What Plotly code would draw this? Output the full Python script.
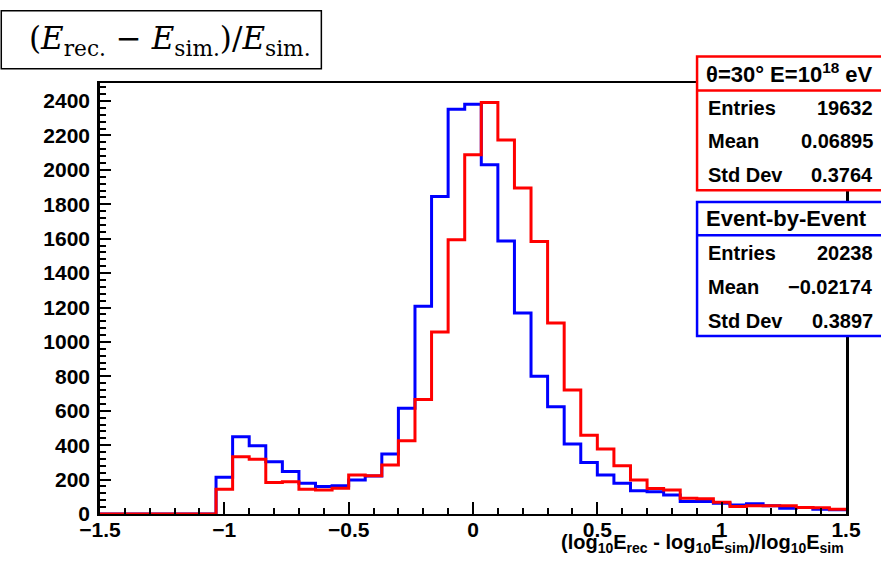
import numpy as np
import plotly.graph_objects as go

# ---- data ----
x_min, x_max, n_bins = -1.5, 1.5, 45
bin_edges = np.linspace(x_min, x_max, n_bins + 1)

event_by_event_counts = [0, 0, 0, 0, 0, 0, 0,
    214, 449, 397, 304, 247, 179, 160, 164, 198, 221, 349, 614, 1207, 1845,
    2353, 2382, 2030, 1586, 1168, 801, 623, 407, 299, 227, 179, 135, 129, 111,
    73, 73, 63, 53, 59, 48, 34, 38, 28, 24]

theta30_counts = [0, 0, 0, 0, 0, 0, 0,
    144, 333, 318, 183, 188, 144, 140, 150, 227, 222, 285, 426, 666, 1058,
    1594, 2088, 2392, 2173, 1895, 1584, 1110, 720, 457, 378, 280, 198, 148, 140,
    92, 88, 69, 44, 48, 48, 48, 38, 36, 28]

red_stats = {"title": "θ=30° E=10<sup>18</sup> eV", "Entries": "19632", "Mean": "0.06895", "Std Dev": "0.3764"}
blue_stats = {"title": "Event-by-Event", "Entries": "20238", "Mean": "−0.02174", "Std Dev": "0.3897"}

FONT = "Liberation Sans"

fig = go.Figure()
for counts, color in [(event_by_event_counts, "#0000ff"), (theta30_counts, "#ff0000")]:
    fig.add_trace(go.Scatter(
        x=list(bin_edges), y=list(counts) + [counts[-1]],
        mode="lines", line=dict(shape="hv", color=color, width=3),
        showlegend=False, hoverinfo="skip"))

# layout geometry (pixels)
W, H = 881, 561
L, R, T, B = 100.4, 846.2, 82.5, 514.3
pw, ph = R - L, B - T
def px(x): return (x - L) / pw
def py(y): return (B - y) / ph

fig.update_layout(
    width=W, height=H,
    margin=dict(l=L, r=W - R, t=T, b=H - B, autoexpand=False),
    paper_bgcolor="white", plot_bgcolor="white",
    font=dict(family=FONT, color="black"),
)
fig.update_xaxes(
    range=[x_min, x_max], showgrid=False, zeroline=False,
    showline=True, linecolor="black", linewidth=2, mirror=True,
    ticks="inside", ticklen=12, tickwidth=2, tickcolor="black",
    tick0=-1.5, dtick=0.5,
    minor=dict(ticks="inside", dtick=0.1, ticklen=6, tickwidth=2, tickcolor="black"),
    tickfont=dict(family=FONT, size=21, weight="bold", color="black"),
    ticklabelstandoff=-4,
)
fig.update_yaxes(
    range=[0, 2505], showgrid=False, zeroline=False,
    showline=True, linecolor="black", linewidth=2.5, mirror=True,
    ticks="inside", ticklen=11, tickwidth=2, tickcolor="black",
    tick0=0, dtick=200,
    minor=dict(ticks="inside", dtick=40, ticklen=6, tickwidth=2, tickcolor="black"),
    tickfont=dict(family=FONT, size=21, weight="bold", color="black"),
    ticklabelstandoff=3,
)

shapes = []
annotations = []

# top-left formula box
shapes.append(dict(type="rect", xref="paper", yref="paper",
                   x0=px(1.7), x1=px(321.7), y0=py(68.3), y1=py(10),
                   line=dict(color="black", width=1.5), fillcolor="white", layer="above"))
annotations.append(dict(xref="paper", yref="paper", x=px(170), y=py(40),
                        xanchor="center", yanchor="middle", showarrow=False,
                        text="(<i>E</i><sub>rec.</sub> − <i>E</i><sub>sim.</sub>)/<i>E</i><sub>sim.</sub>",
                        font=dict(family="DejaVu Serif", size=31, color="black")))

# x-axis title
annotations.append(dict(xref="paper", yref="paper", x=1.0, y=py(544),
                        xanchor="right", yanchor="middle", showarrow=False,
                        text="(log<sub>10</sub>E<sub>rec</sub> - log<sub>10</sub>E<sub>sim</sub>)/log<sub>10</sub>E<sub>sim</sub>",
                        font=dict(family=FONT, size=20, weight="bold", color="black")))

def stats_box(stats, color, top, div, bottom, rows_y, title_y):
    shapes.append(dict(type="rect", xref="paper", yref="paper",
                       x0=px(697.3), x1=px(884), y0=py(bottom), y1=py(top),
                       line=dict(color=color, width=2.5), fillcolor="white", layer="above"))
    shapes.append(dict(type="line", xref="paper", yref="paper",
                       x0=px(697.3), x1=px(884), y0=py(div), y1=py(div),
                       line=dict(color=color, width=2.5), layer="above"))
    annotations.append(dict(xref="paper", yref="paper", x=px(704), y=py(title_y),
                            xanchor="left", yanchor="middle", showarrow=False,
                            text=stats["title"],
                            font=dict(family=FONT, size=22, weight="bold", color="black")))
    for key, yy in zip(["Entries", "Mean", "Std Dev"], rows_y):
        annotations.append(dict(xref="paper", yref="paper", x=px(706), y=py(yy),
                                xanchor="left", yanchor="middle", showarrow=False,
                                text=key,
                                font=dict(family=FONT, size=20, weight="bold", color="black")))
        annotations.append(dict(xref="paper", yref="paper", x=px(875), y=py(yy),
                                xanchor="right", yanchor="middle", showarrow=False,
                                text=stats[key],
                                font=dict(family=FONT, size=20, weight="bold", color="black")))

stats_box(red_stats, "#ff0000", 56, 90, 190, [107.3, 140.7, 175], 72.7)
stats_box(blue_stats, "#0000ff", 201.7, 235, 336, [253.3, 287.3, 320.7], 218.3)

fig.update_layout(shapes=shapes, annotations=annotations)
fig.write_html("out.html", config={"displayModeBar": False},
               post_script="document.body.style.margin='0';")
